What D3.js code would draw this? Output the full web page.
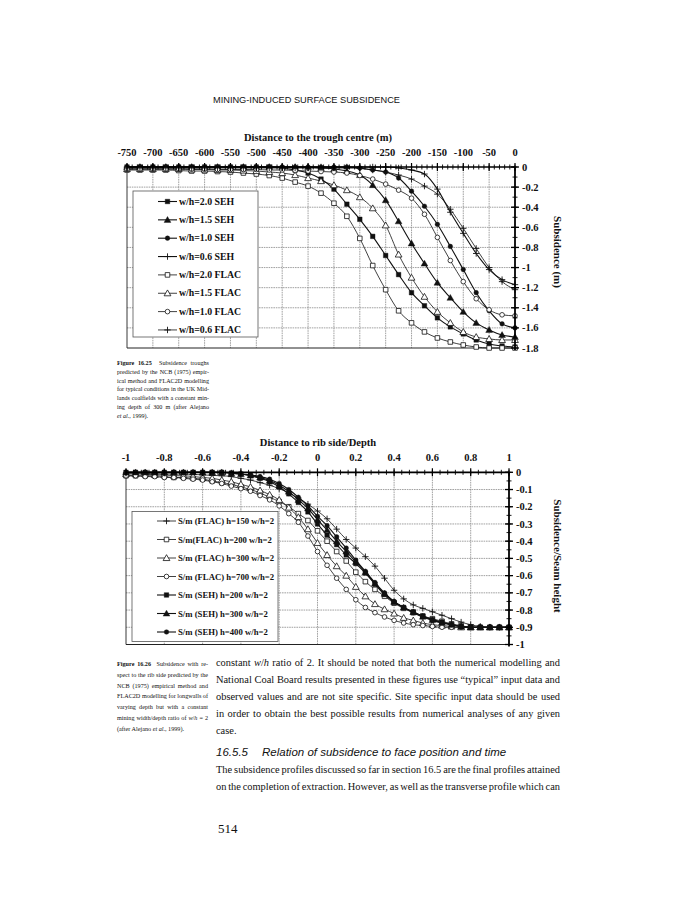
<!DOCTYPE html>
<html>
<head>
<meta charset="utf-8">
<script src="https://cdn.jsdelivr.net/npm/d3@7/dist/d3.min.js"></script>
<style>
  body { margin: 0; background: #fff; }
  svg text { font-family: "Liberation Serif", "Times New Roman", serif; fill: #111; }
  .chart text { font-weight: bold; }
</style>
</head>
<body>
<svg id="page" width="674" height="900"></svg>
<script>
// ---------- Figure 16.25 : subsidence troughs (m) ----------
const troughX = [-750, -725, -700, -675, -650, -625, -600, -575, -550, -525, -500, -475, -450, -425, -400,
  -375, -350, -325, -300, -275, -250, -225, -200, -175, -150, -125, -100, -75, -50, -25, 0];

const seh20 = [0, 0, 0, 0, 0, 0, 0, 0, 0, 0, 0, 0, -0.01, -0.03, -0.06,
  -0.12, -0.22, -0.37, -0.52, -0.69, -0.88, -1.07, -1.25, -1.38, -1.50, -1.59, -1.66, -1.72, -1.76, -1.78, -1.79];
const seh15 = [0, 0, 0, 0, 0, 0, 0, 0, 0, 0, 0, 0, 0, 0, 0,
  -0.01, -0.02, -0.04, -0.08, -0.18, -0.33, -0.54, -0.76, -0.96, -1.15, -1.30, -1.44, -1.55, -1.62, -1.67, -1.69];
const seh10 = [0, 0, 0, 0, 0, 0, 0, 0, 0, 0, 0, 0, 0, 0, 0,
  0, 0, 0, -0.01, -0.03, -0.05, -0.11, -0.24, -0.39, -0.57, -0.79, -1.02, -1.25, -1.43, -1.56, -1.60];
const seh06 = [0, 0, 0, 0, 0, 0, 0, 0, 0, 0, 0, 0, 0, 0, 0,
  0, 0, 0, 0, 0, 0, -0.01, -0.03, -0.07, -0.22, -0.45, -0.66, -0.86, -1.02, -1.12, -1.17];
const flac20 = [-0.03, -0.03, -0.03, -0.03, -0.035, -0.04, -0.04, -0.045, -0.05, -0.06, -0.07, -0.085, -0.11, -0.15, -0.19,
  -0.26, -0.36, -0.49, -0.71, -0.98, -1.22, -1.43, -1.55, -1.64, -1.70, -1.74, -1.77, -1.79, -1.80, -1.80, -1.80];
const flac15 = [-0.02, -0.02, -0.02, -0.02, -0.02, -0.025, -0.025, -0.03, -0.03, -0.035, -0.04, -0.05, -0.06, -0.08, -0.11,
  -0.14, -0.18, -0.23, -0.30, -0.41, -0.58, -0.87, -1.10, -1.29, -1.44, -1.55, -1.64, -1.69, -1.71, -1.72, -1.72];
const flac10 = [-0.02, -0.02, -0.02, -0.02, -0.02, -0.02, -0.02, -0.025, -0.025, -0.025, -0.025, -0.03, -0.03, -0.035, -0.04,
  -0.045, -0.05, -0.06, -0.085, -0.12, -0.17, -0.23, -0.31, -0.47, -0.70, -0.93, -1.14, -1.31, -1.42, -1.47, -1.48];
const flac06 = [-0.01, -0.01, -0.01, -0.01, -0.01, -0.01, -0.01, -0.01, -0.01, -0.01, -0.01, -0.01, -0.01, -0.01, -0.01,
  -0.01, -0.01, -0.01, -0.015, -0.03, -0.05, -0.08, -0.12, -0.19, -0.27, -0.42, -0.61, -0.81, -1.00, -1.14, -1.22];

const troughXTicks = [-750, -700, -650, -600, -550, -500, -450, -400, -350, -300, -250, -200, -150, -100, -50, 0];
const troughYTicks = [0, -0.2, -0.4, -0.6, -0.8, -1, -1.2, -1.4, -1.6, -1.8];
const troughYLabels = ["0", "-0.2", "-0.4", "-0.6", "-0.8", "-1", "-1.2", "-1.4", "-1.6", "-1.8"];

// ---------- Figure 16.26 : normalised subsidence ----------
const ribX = [-1, -0.95, -0.9, -0.85, -0.8, -0.75, -0.7, -0.65, -0.6, -0.55, -0.5, -0.45, -0.4, -0.35, -0.3, -0.25, -0.2,
  -0.15, -0.1, -0.05, 0, 0.05, 0.1, 0.15, 0.2, 0.25, 0.3, 0.35, 0.4, 0.45, 0.5, 0.55, 0.6, 0.65, 0.7, 0.75, 0.8,
  0.85, 0.9, 0.95, 1];

const flacH150 = [-0.005, -0.005, -0.005, -0.008, -0.01, -0.01, -0.01, -0.012, -0.015, -0.018, -0.02, -0.025, -0.035, -0.045,
  -0.06, -0.075, -0.095, -0.12, -0.15, -0.185, -0.225, -0.27, -0.33, -0.39, -0.44, -0.49, -0.545, -0.615, -0.685, -0.735,
  -0.77, -0.79, -0.81, -0.83, -0.85, -0.87, -0.885, -0.895, -0.9, -0.9, -0.9];
const flacH200 = [-0.02, -0.02, -0.02, -0.02, -0.025, -0.03, -0.03, -0.035, -0.04, -0.05, -0.06, -0.07, -0.085, -0.10,
  -0.12, -0.145, -0.17, -0.20, -0.24, -0.28, -0.34, -0.40, -0.46, -0.515, -0.58, -0.635, -0.68, -0.72, -0.76, -0.79,
  -0.815, -0.835, -0.85, -0.865, -0.88, -0.89, -0.9, -0.9, -0.9, -0.9, -0.9];
const flacH300 = [-0.01, -0.01, -0.01, -0.015, -0.015, -0.02, -0.02, -0.025, -0.03, -0.035, -0.045, -0.055, -0.07, -0.085,
  -0.105, -0.13, -0.16, -0.205, -0.26, -0.33, -0.41, -0.48, -0.545, -0.60, -0.665, -0.72, -0.765, -0.795, -0.82, -0.845,
  -0.86, -0.875, -0.885, -0.89, -0.895, -0.9, -0.9, -0.9, -0.9, -0.9, -0.9];
const flacH700 = [-0.02, -0.02, -0.025, -0.025, -0.03, -0.03, -0.035, -0.04, -0.045, -0.055, -0.065, -0.08, -0.095, -0.11,
  -0.135, -0.16, -0.195, -0.24, -0.29, -0.37, -0.46, -0.54, -0.615, -0.68, -0.74, -0.785, -0.815, -0.84, -0.86, -0.875,
  -0.885, -0.89, -0.895, -0.9, -0.9, -0.9, -0.9, -0.9, -0.9, -0.9, -0.9];
const sehH200 = [0, 0, 0, 0, 0, 0, 0, 0, 0, 0, 0, -0.005, -0.01, -0.02, -0.035, -0.055, -0.085, -0.125, -0.175, -0.23,
  -0.30, -0.365, -0.42, -0.48, -0.53, -0.585, -0.65, -0.71, -0.755, -0.785, -0.81, -0.835, -0.855, -0.87, -0.885, -0.895,
  -0.9, -0.9, -0.9, -0.9, -0.9];
const sehH300 = [0, 0, 0, 0, 0, 0, 0, 0, 0, 0, 0, -0.005, -0.01, -0.018, -0.03, -0.048, -0.075, -0.112, -0.16, -0.21,
  -0.275, -0.335, -0.40, -0.46, -0.52, -0.58, -0.645, -0.705, -0.752, -0.785, -0.812, -0.838, -0.858, -0.872, -0.885,
  -0.895, -0.9, -0.9, -0.9, -0.9, -0.9];
const sehH400 = [0, 0, 0, 0, 0, 0, 0, 0, 0, 0, 0, -0.005, -0.01, -0.015, -0.025, -0.04, -0.065, -0.10, -0.145, -0.195,
  -0.255, -0.31, -0.375, -0.44, -0.51, -0.575, -0.64, -0.70, -0.75, -0.785, -0.815, -0.84, -0.86, -0.875, -0.885,
  -0.895, -0.9, -0.9, -0.9, -0.9, -0.9];

const ribXTicks = [-1, -0.8, -0.6, -0.4, -0.2, 0, 0.2, 0.4, 0.6, 0.8, 1];
const ribXLabels = ["-1", "-0.8", "-0.6", "-0.4", "-0.2", "0", "0.2", "0.4", "0.6", "0.8", "1"];
const ribYTicks = [0, -0.1, -0.2, -0.3, -0.4, -0.5, -0.6, -0.7, -0.8, -0.9, -1];
const ribYLabels = ["0", "-0.1", "-0.2", "-0.3", "-0.4", "-0.5", "-0.6", "-0.7", "-0.8", "-0.9", "-1"];

const svg = d3.select("#page");
svg.append("rect").attr("width", 674).attr("height", 900).attr("fill", "#fff");

function fitText(sel, w) {
  const n = sel.node().getComputedTextLength();
  const fs = parseFloat(sel.style("font-size"));
  sel.style("font-size", (fs * w / n) + "px");
  return sel;
}

// running head
fitText(svg.append("text").attr("x", 213).attr("y", 103)
  .style("font-family", "'Liberation Sans', Arial, sans-serif").style("font-size", "8.5px")
  .text("MINING-INDUCED SURFACE SUBSIDENCE"), 187);

function marker(g, kind, open, cx, cy) {
  if (kind === "plus") {
    g.append("path").attr("d", `M${cx - 3.2},${cy}H${cx + 3.2}M${cx},${cy - 3.2}V${cy + 3.2}`)
      .attr("stroke", "#111").attr("stroke-width", 0.9).attr("fill", "none");
    return;
  }
  const sym = { square: d3.symbolSquare, triangle: d3.symbolTriangle, circle: d3.symbolCircle }[kind];
  const size = { square: 21, triangle: 20, circle: 17 }[kind];
  g.append("path").attr("d", d3.symbol(sym, size)())
    .attr("transform", `translate(${cx},${cy + (kind === "triangle" ? 0.6 : 0)})`)
    .attr("fill", open ? "#fff" : "#111").attr("stroke", "#111").attr("stroke-width", open ? 0.8 : 0.4);
}

function drawChart(c) {
  const g = svg.append("g").attr("class", "chart");
  const x = d3.scaleLinear().domain(c.xDomain).range([c.left, c.right]);
  const y = d3.scaleLinear().domain(c.yDomain).range([c.bottom, c.top]);

  // grid
  g.append("g").selectAll("line").data(c.xTicks.slice(1, -1)).join("line")
    .attr("x1", d => x(d)).attr("x2", d => x(d)).attr("y1", c.top).attr("y2", c.bottom)
    .attr("stroke", "#8a8a8a").attr("stroke-width", 0.8).attr("stroke-dasharray", "1.6,0.8");
  g.append("g").selectAll("line").data(c.yTicks.slice(1, -1)).join("line")
    .attr("x1", c.left).attr("x2", c.right).attr("y1", d => y(d)).attr("y2", d => y(d))
    .attr("stroke", "#8a8a8a").attr("stroke-width", 0.8).attr("stroke-dasharray", "1.6,0.8");

  // frame
  g.append("line").attr("x1", c.left).attr("x2", c.left).attr("y1", c.top).attr("y2", c.bottom)
    .attr("stroke", "#222").attr("stroke-width", 0.9);
  g.append("line").attr("x1", c.left).attr("x2", c.right).attr("y1", c.bottom).attr("y2", c.bottom)
    .attr("stroke", "#222").attr("stroke-width", 1);

  // legend box
  g.append("rect").attr("x", c.legend.x).attr("y", c.legend.y).attr("width", c.legend.w).attr("height", c.legend.h)
    .attr("fill", "#fff").attr("stroke", "#555").attr("stroke-width", 0.8);

  // series
  c.series.forEach(s => {
    const line = d3.line().x((d, i) => x(c.xs[i])).y(d => y(d)).curve(d3.curveMonotoneX);
    g.append("path").datum(s.ys).attr("d", line).attr("fill", "none")
      .attr("stroke", "#111").attr("stroke-width", s.open ? 0.8 : 1.1);
  });
  c.series.forEach(s => {
    const mg = g.append("g");
    s.ys.forEach((v, i) => marker(mg, s.kind, s.open, x(c.xs[i]), y(v)));
  });

  // top axis
  g.append("line").attr("x1", c.left).attr("x2", c.right).attr("y1", c.top).attr("y2", c.top)
    .attr("stroke", "#000").attr("stroke-width", 1.7);
  g.append("g").selectAll("line").data(c.xMinor).join("line")
    .attr("x1", d => x(d)).attr("x2", d => x(d)).attr("y1", c.top - 2.5).attr("y2", c.top + 2.5)
    .attr("stroke", "#000").attr("stroke-width", 0.9);
  g.append("g").selectAll("line").data(c.xTicks).join("line")
    .attr("x1", d => x(d)).attr("x2", d => x(d)).attr("y1", c.top - 4).attr("y2", c.top + 4)
    .attr("stroke", "#000").attr("stroke-width", 1.2);
  g.append("g").selectAll("text").data(c.xTicks).join("text")
    .attr("x", d => x(d)).attr("y", c.top - 11).attr("text-anchor", "middle")
    .style("font-size", "10.5px").text((d, i) => c.xLabels[i]);
  g.append("text").attr("x", c.titleX).attr("y", c.top - 26.5).attr("text-anchor", "middle")
    .style("font-size", "10.5px").text(c.xTitle);

  // right axis
  g.append("line").attr("x1", c.right).attr("x2", c.right).attr("y1", c.top).attr("y2", c.bottom + 2)
    .attr("stroke", "#000").attr("stroke-width", 1.8);
  g.append("g").selectAll("line").data(c.yMinor).join("line")
    .attr("x1", c.right - 2.5).attr("x2", c.right + 2.5).attr("y1", d => y(d)).attr("y2", d => y(d))
    .attr("stroke", "#000").attr("stroke-width", 0.9);
  g.append("g").selectAll("line").data(c.yTicks).join("line")
    .attr("x1", c.right - 4).attr("x2", c.right + 4).attr("y1", d => y(d)).attr("y2", d => y(d))
    .attr("stroke", "#000").attr("stroke-width", 1.3);
  g.append("g").selectAll("text").data(c.yTicks).join("text")
    .attr("x", c.right + 7).attr("y", d => y(d) + 3.6)
    .style("font-size", "10.5px").text((d, i) => c.yLabels[i]);
  g.append("text").attr("transform", `translate(${c.yTitleX},${c.yTitleY}) rotate(90)`)
    .attr("text-anchor", "middle").style("font-size", "11px").text(c.yTitle);

  // legend entries
  c.series.forEach((s, i) => {
    const ly = c.legend.y + c.legend.first + i * c.legend.step;
    const lx = c.legend.x + c.legend.inset;
    g.append("line").attr("x1", lx).attr("x2", lx + 19).attr("y1", ly).attr("y2", ly)
      .attr("stroke", "#111").attr("stroke-width", s.open ? 0.8 : 1.1);
    marker(g, s.kind, s.open, lx + 9.5, ly);
    g.append("text").attr("x", lx + 21).attr("y", ly + 3.2).style("font-size", c.legend.font).text(s.label);
  });
}

drawChart({
  xDomain: [-750, 0], yDomain: [-1.8, 0],
  left: 127, right: 515, top: 167, bottom: 348,
  xs: troughX,
  xTicks: troughXTicks, xLabels: troughXTicks.map(String),
  xMinor: d3.range(-750, 1, 10),
  yTicks: troughYTicks, yLabels: troughYLabels,
  yMinor: d3.range(0, -1.81, -0.1),
  xTitle: "Distance to the trough centre (m)", titleX: 318,
  yTitle: "Subsidence (m)", yTitleX: 554, yTitleY: 252,
  legend: { x: 133, y: 191, w: 125, h: 146, first: 10.5, step: 18.35, inset: 25, font: "9.8px" },
  series: [
    { label: "w/h=2.0 SEH", ys: seh20, kind: "square", open: false },
    { label: "w/h=1.5 SEH", ys: seh15, kind: "triangle", open: false },
    { label: "w/h=1.0 SEH", ys: seh10, kind: "circle", open: false },
    { label: "w/h=0.6 SEH", ys: seh06, kind: "plus", open: false },
    { label: "w/h=2.0 FLAC", ys: flac20, kind: "square", open: true },
    { label: "w/h=1.5 FLAC", ys: flac15, kind: "triangle", open: true },
    { label: "w/h=1.0 FLAC", ys: flac10, kind: "circle", open: true },
    { label: "w/h=0.6 FLAC", ys: flac06, kind: "plus", open: true }
  ]
});

drawChart({
  xDomain: [-1, 1], yDomain: [-1, 0],
  left: 126, right: 509, top: 472.3, bottom: 644.5,
  xs: ribX,
  xTicks: ribXTicks, xLabels: ribXLabels,
  xMinor: d3.range(-1, 1.001, 0.04),
  yTicks: ribYTicks, yLabels: ribYLabels,
  yMinor: d3.range(0, -1.001, -0.05),
  xTitle: "Distance to rib side/Depth", titleX: 318,
  yTitle: "Subsidence/Seam height", yTitleX: 554, yTitleY: 556,
  legend: { x: 132, y: 511.5, w: 146, h: 130, first: 9.5, step: 18.5, inset: 25, font: "8.7px" },
  series: [
    { label: "S/m (FLAC) h=150 w/h=2", ys: flacH150, kind: "plus", open: true },
    { label: "S/m(FLAC) h=200 w/h=2", ys: flacH200, kind: "square", open: true },
    { label: "S/m (FLAC) h=300 w/h=2", ys: flacH300, kind: "triangle", open: true },
    { label: "S/m (FLAC) h=700 w/h=2", ys: flacH700, kind: "circle", open: true },
    { label: "S/m (SEH) h=200 w/h=2", ys: sehH200, kind: "square", open: false },
    { label: "S/m (SEH) h=300 w/h=2", ys: sehH300, kind: "triangle", open: false },
    { label: "S/m (SEH) h=400 w/h=2", ys: sehH400, kind: "circle", open: false }
  ]
});

// ---------- captions and running text ----------
// each line is a list of [text, style] pieces; b = bold, i = italic
const cap1 = [
  [["Figure 16.25", "b"], ["  Subsidence troughs"]],
  [["predicted by the NCB (1975) empir-"]],
  [["ical method and FLAC2D modelling"]],
  [["for typical conditions in the UK Mid-"]],
  [["lands coalfields with a constant min-"]],
  [["ing depth of 300 m (after Alejano"]],
  [["et al.", "i"], [", 1999)."]]
];
const cap2 = [
  [["Figure 16.26", "b"], ["  Subsidence with re-"]],
  [["spect to the rib side predicted by the"]],
  [["NCB (1975) empirical method and"]],
  [["FLAC2D modelling for longwalls of"]],
  [["varying depth but with a constant"]],
  [["mining width/depth ratio of "], ["w", "i"], ["/"], ["h", "i"], [" = 2"]],
  [["(after Alejano "], ["et al.", "i"], [", 1999)."]]
];
const body1 = [
  [["constant "], ["w", "i"], ["/"], ["h", "i"], [" ratio of 2. It should be noted that both the numerical modelling and"]],
  [["National Coal Board results presented in these figures use \u201ctypical\u201d input data and"]],
  [["observed values and are not site specific. Site specific input data should be used"]],
  [["in order to obtain the best possible results from numerical analyses of any given"]],
  [["case."]]
];
const body2 = [
  [["The subsidence profiles discussed so far in section 16.5 are the final profiles attained"]],
  [["on the completion of extraction. However, as well as the transverse profile which can"]]
];

function block(lines, x0, y0, lh, width, size, lastJustified, fit) {
  const texts = lines.map((pieces, i) => {
    const t = svg.append("text").attr("x", x0).attr("y", y0 + i * lh)
      .attr("xml:space", "preserve").style("font-size", size + "px");
    pieces.forEach(p => {
      t.append("tspan").text(p[0])
        .style("font-weight", p[1] === "b" ? "bold" : null)
        .style("font-style", p[1] === "i" ? "italic" : null);
    });
    return t;
  });
  const justified = texts.filter((t, i) => i < lines.length - 1 || lastJustified);
  if (fit) {
    const widest = d3.max(justified, t => t.node().getComputedTextLength());
    const fs = size * width / widest;
    texts.forEach(t => t.style("font-size", fs + "px"));
  }
  texts.forEach((t, i) => {
    if (i === lines.length - 1 && !lastJustified) return;
    const full = lines[i].map(p => p[0]).join("");
    const gaps = (full.match(/ /g) || []).length;
    const natural = t.node().getComputedTextLength();
    if (gaps) t.style("word-spacing", ((width - natural) / gaps) + "px");
  });
}

block(cap1, 117, 365, 8.8, 92, 8, false, true);
block(cap2, 117, 666, 10.8, 91, 8, false, true);
block(body1, 216, 666, 17.1, 344, 10.4, false, false);
block(body2, 216, 773, 17.1, 344, 10.4, true, false);

const head = svg.append("text").attr("y", 756)
  .style("font-family", "'Liberation Sans', Arial, sans-serif").style("font-style", "italic").style("font-size", "11.5px");
head.append("tspan").attr("x", 216).text("16.5.5");
head.append("tspan").attr("x", 262).text("Relation of subsidence to face position and time");

svg.append("text").attr("x", 218).attr("y", 833).style("font-size", "13px").text("514");
</script>
</body>
</html>
